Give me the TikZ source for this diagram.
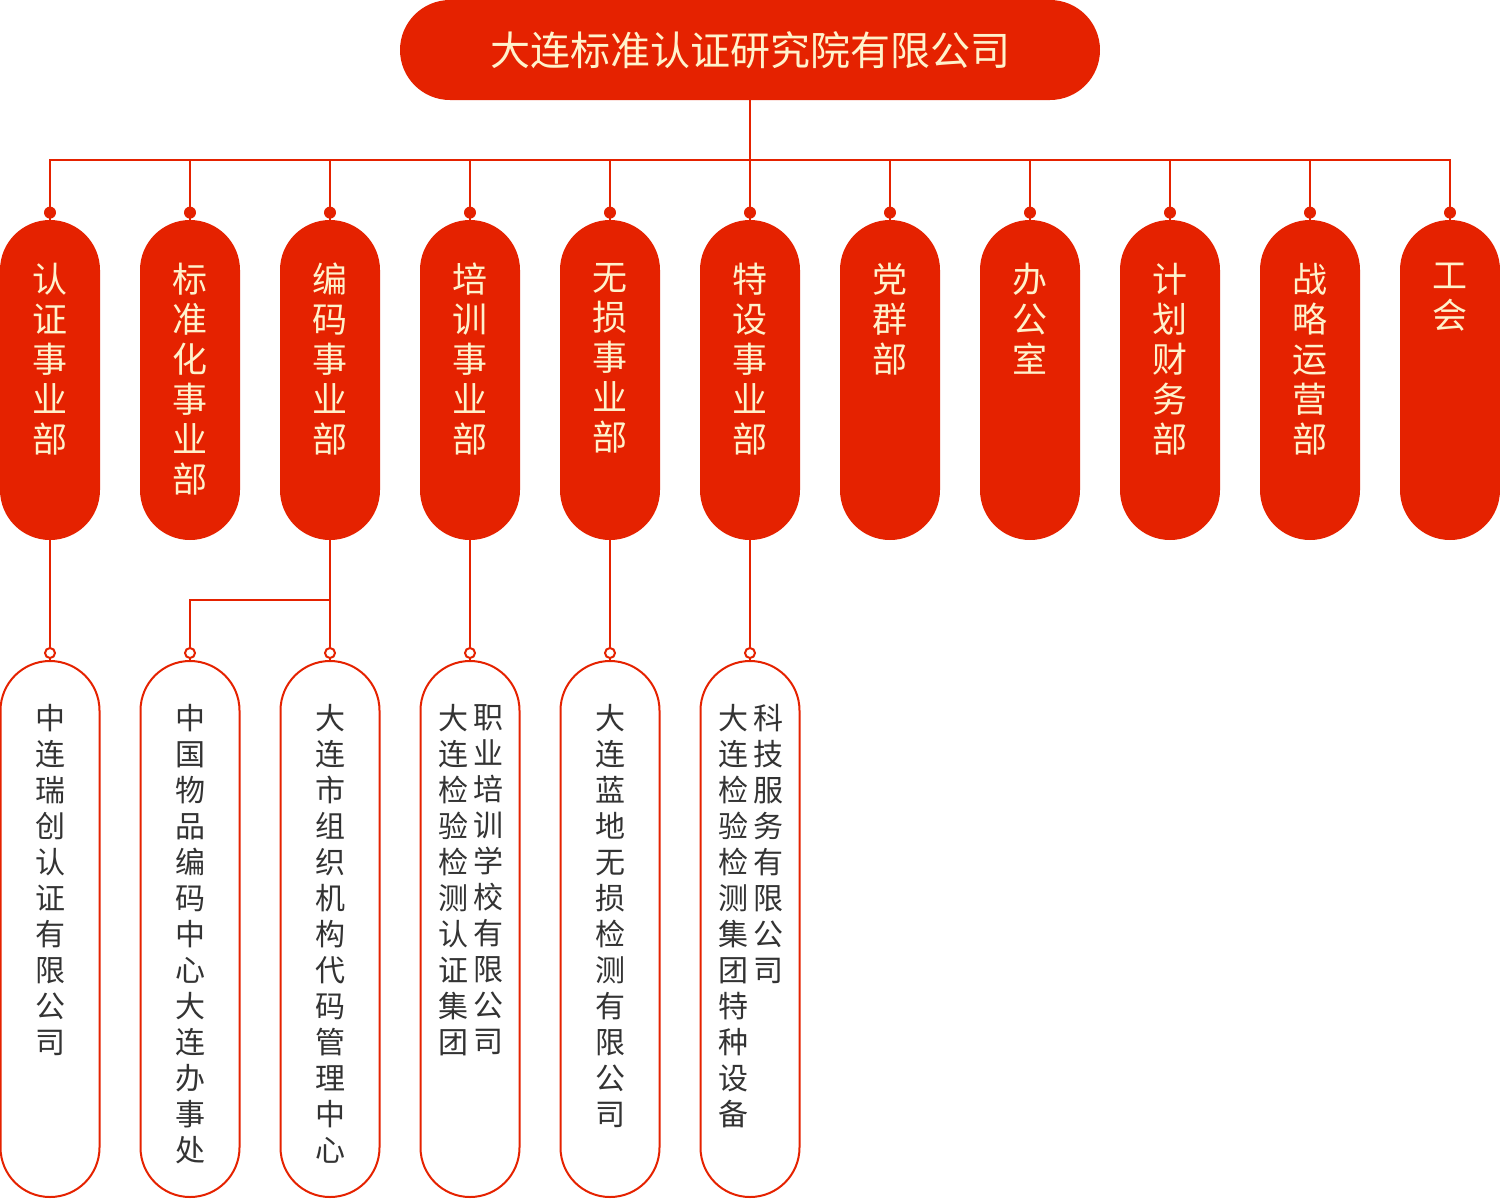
\documentclass[tikz,border=0pt]{standalone}
\usepackage{fontspec}
\setmainfont{Noto Sans CJK SC}
\usepackage{tikz}
\usetikzlibrary{positioning}
\definecolor{orgred}{HTML}{E52200}
\definecolor{orgcream}{HTML}{FFF2CC}
\definecolor{orggray}{HTML}{333333}
\tikzset{
	head/.style={fill=orgred,rounded corners=25pt,minimum width=350pt,minimum height=50pt,text=orgcream,font=\fontsize{20}{24}\selectfont},
	dept/.style={fill=orgred,rounded corners=25pt,minimum width=50pt,minimum height=160pt},
	depttext/.style={inner sep=0pt,align=center,text=orgcream,font=\fontsize{17.5}{20}\selectfont},
	sub/.style={draw=orgred,line width=1pt,fill=white,rounded corners=24.75pt,minimum width=49.5pt,minimum height=268pt},
	subtext/.style={inner sep=0pt,align=center,text=orggray,font=\fontsize{15}{18}\selectfont},
	link/.style={orgred,line width=1pt},
	dot/.style={fill=orgred},
	ring/.style={draw=orgred,fill=white,line width=1pt}
}
\begin{document}
\begin{tikzpicture}[x=0.5pt,y=-0.5pt]
	\useasboundingbox (0,0) rectangle (1500,1200);
	\node[head] (top) at (750,50) {大连标准认证研究院有限公司};
	\foreach \txt [count=\i] in {{认\\证\\事\\业\\部},{标\\准\\化\\事\\业\\部},{编\\码\\事\\业\\部},{培\\训\\事\\业\\部},{无\\损\\事\\业\\部},{特\\设\\事\\业\\部},{党\\群\\部},{办\\公\\室},{计\\划\\财\\务\\部},{战\\略\\运\\营\\部},{工\\会}}
	{
		\draw[link] (top.south) -- ++(0,60) -| (-90+140*\i,220);
		\node[dept] (d\i) at (-90+140*\i,380) {};
		\node[depttext,below=21.5pt of d\i.north] (dt\i) {\txt};
		\fill[dot] ([yshift=3.5pt]d\i.north) circle (3pt);
	}
	\foreach \x [count=\i] in {50,190,330,470,610,750}
		\node[sub] (s\i) at (\x,929) {};
	\node[subtext,below=22pt of s1.north] (st1) {中\\连\\瑞\\创\\认\\证\\有\\限\\公\\司};
	\node[subtext,below=22pt of s2.north] (st2) {中\\国\\物\\品\\编\\码\\中\\心\\大\\连\\办\\事\\处};
	\node[subtext,below=22pt of s3.north] (st3) {大\\连\\市\\组\\织\\机\\构\\代\\码\\管\\理\\中\\心};
	\node[subtext,below=22pt of s4.north,xshift=-8.25pt] (st4a) {大\\连\\检\\验\\检\\测\\认\\证\\集\\团};
	\node[subtext,below=22pt of s4.north,xshift=9.25pt] (st4b) {职\\业\\培\\训\\学\\校\\有\\限\\公\\司};
	\node[subtext,below=22pt of s5.north] (st5) {大\\连\\蓝\\地\\无\\损\\检\\测\\有\\限\\公\\司};
	\node[subtext,below=22pt of s6.north,xshift=-8.5pt] (st6a) {大\\连\\检\\验\\检\\测\\集\\团\\特\\种\\设\\备};
	\node[subtext,below=22pt of s6.north,xshift=9pt] (st6b) {科\\技\\服\\务\\有\\限\\公\\司};
	\foreach \i in {1,3,4,5,6}
		\draw[link] (d\i.south) -- (s\i.north);
	\draw[link] (d3.south) -- ++(0,60) -| (s2.north);
	\foreach \i in {1,...,6}
		\draw[ring] ([yshift=3.5pt]s\i.north) circle (2.5pt);
\end{tikzpicture}
\end{document}
